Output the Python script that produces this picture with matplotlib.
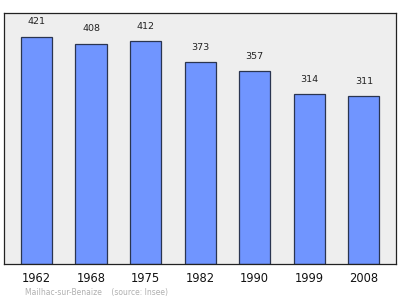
import matplotlib
matplotlib.use("Agg")
import matplotlib.pyplot as plt

years = ["1962", "1968", "1975", "1982", "1990", "1999", "2008"]
population = [421, 408, 412, 373, 357, 314, 311]

fig = plt.figure(figsize=(4.0, 2.99), dpi=100)
ax = fig.add_axes([4/400, 1 - 264/299, 392/400, 251/299])
ax.set_facecolor("#eeeeee")
x = list(range(len(years)))
ax.bar(x, population, width=0.57, color="#7095ff", edgecolor="#2a3550", linewidth=0.9)
ax.set_xlim(-0.595, 6.59)
ax.set_ylim(0, 464.5)
for xi, v in zip(x, population):
    ax.annotate(str(v), (xi, v), xytext=(0, 7.5), textcoords="offset points",
                ha="center", va="bottom", fontsize=6.8, color="#222222")
ax.set_yticks([])
ax.set_xticks(x)
ax.set_xticklabels(years, fontsize=8.3, color="#111111")
ax.tick_params(axis="x", length=0, pad=6)
for s in ax.spines.values():
    s.set_color("#222222")
    s.set_linewidth(0.9)
fig.text(25/400, 1 - 292/299, "Mailhac-sur-Benaize    (source: Insee)",
         fontsize=5.5, color="#b0b0b0", va="center", ha="left")
fig.savefig("out.png", dpi=100)
